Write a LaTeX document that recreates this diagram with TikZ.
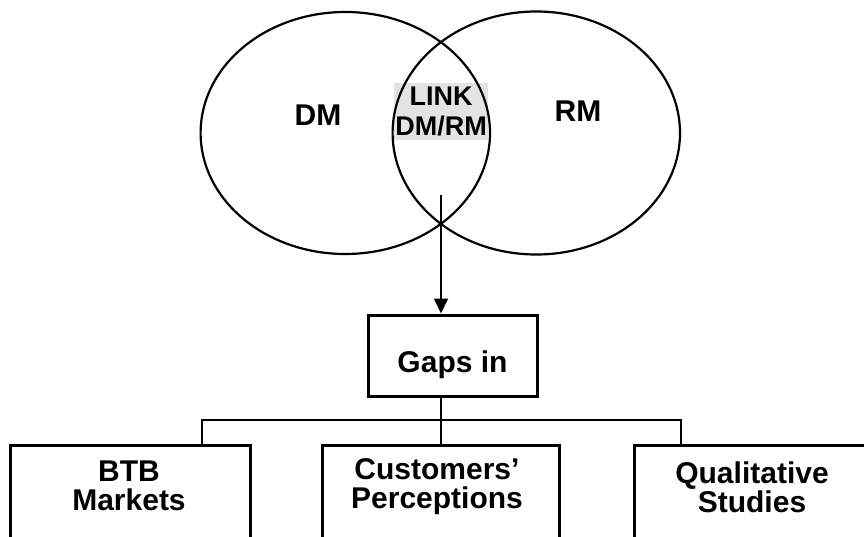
\documentclass[tikz,border=0pt]{standalone}
\usepackage{fontspec}
\setmainfont{Liberation Sans}
\usetikzlibrary{arrows.meta}
\tikzset{
  ring/.style={draw, line width=2.2pt},
  frame/.style={draw, line width=3pt, rectangle, inner sep=0pt},
  wire/.style={line width=2pt},
  heavy/.style={font=\bfseries\fontsize{30}{29}\selectfont, align=center, inner sep=0pt},
}
\begin{document}
\begin{tikzpicture}[x=1pt,y=-1pt]
\useasboundingbox (0,0) rectangle (864,537);
\clip (0,0) rectangle (864,537);
\fill[white] (0,0) rectangle (864,537);

% shaded label in the overlap of the two sets
\node[fill=black!11, inner xsep=1.5pt, inner ysep=4pt, align=center,
      font=\bfseries\fontsize{27}{30}\selectfont] (link) at (441,111.5) {LINK\\DM/RM};

% the two overlapping sets
\draw[ring] (345.3,133) ellipse [x radius=144.7pt, y radius=121pt];
\draw[ring] (536.3,133) ellipse [x radius=143.7pt, y radius=121.5pt];
\node[heavy] (dm) at (318,115) {DM};
\node[heavy] (rm) at (578,111) {RM};

% central box
\node[frame, minimum width=169pt, text height=53pt, text depth=20pt, inner ysep=4pt,
      font=\bfseries\fontsize{30}{36}\selectfont, anchor=base] (gaps) at (452.5,372) {Gaps in};

\coordinate (src) at (441,195);
\draw[wire, -{Triangle[length=15pt, width=14pt]}] (src) -- (src |- gaps.north);

% bottom row of boxes
\node[frame, minimum width=240pt, minimum height=110pt, anchor=north west] (btb) at (9,444) {};
\node[frame, minimum width=237pt, minimum height=110pt, anchor=north west] (cust) at (321,444) {};
\node[frame, minimum width=238pt, minimum height=110pt, anchor=north west] (qual) at (633,444) {};

\node[heavy, anchor=north] (btbtext) at (129,461) {BTB\\Markets};
\node[heavy, anchor=north] (custtext) at (437,458) {Customers’\\Perceptions};
\node[heavy, anchor=north] (qualtext) at (752,462) {Qualitative\\Studies};

% tree connectors
\coordinate (hub) at (441,420);
\coordinate (lt) at (202,420);
\coordinate (rt) at (681,420);
\draw[wire] (gaps.south -| hub) -- (hub |- cust.north);
\draw[wire] (lt |- btb.north) -- (lt) -- (rt) -- (rt |- qual.north);
\end{tikzpicture}
\end{document}
